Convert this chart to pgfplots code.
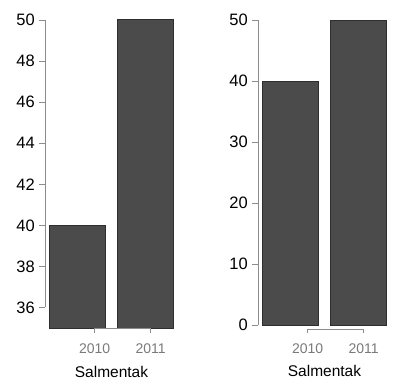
\documentclass[border=0pt]{standalone}
\usepackage{pgfplots}
\pgfplotsset{compat=1.18}
\usepackage{fontspec}
\setmainfont{Liberation Sans}
\definecolor{barfill}{HTML}{4B4B4B}
\definecolor{bardraw}{HTML}{2E2E2E}
\definecolor{axgray}{HTML}{8C8C8C}
\definecolor{lblgray}{HTML}{7A7A7A}
\begin{document}
\begin{tikzpicture}[x=1pt,y=1pt]
\useasboundingbox (0,0) rectangle (399,391);
\pgfplotsset{rstyle/.style={
  scale only axis, width=133pt,
  xmin=0.112, xmax=2.488,
  axis line style={draw=none},
  xtick={1,2}, xticklabels={2010,2011},
  xtick style={draw=none},
  ytick pos=left, xtick pos=bottom,
  ytick style={draw=axgray, line width=0.7pt},
  tick align=outside, major tick length=6pt,
  yticklabel style={font=\fontsize{16.5}{16.5}\selectfont, text=black, inner sep=0pt, anchor=east, xshift=-4pt},
  xticklabel style={font=\fontsize{14}{14}\selectfont, text=lblgray, inner sep=0pt, anchor=base},
  ybar, bar width=1, bar shift=0pt,
  /pgf/number format/assume math mode=true,
  xlabel={Salmentak},
  xlabel style={font=\fontsize{15.5}{15.5}\selectfont, inner sep=0pt, at={(axis description cs:0.5,0)}, anchor=base},
}}
% Left panel
\begin{axis}[rstyle, at={(45pt,63pt)}, anchor=south west, height=308pt,
  ymin=35, ymax=50, ytick={36,38,...,50},
  xticklabel style={yshift=-19pt},
  xlabel style={yshift=-49pt},
  after end axis/.code={
    \draw[axgray, line width=0.7pt] (axis cs:0.112,36) -- (axis cs:0.112,50);
    \draw[axgray, line width=0.7pt] (axis cs:1,35) -- (axis cs:2,35);
    \draw[axgray, line width=0.7pt] (axis cs:1,35) -- ++(0pt,-5pt);
    \draw[axgray, line width=0.7pt] (axis cs:2,35) -- ++(0pt,-5pt);
  }]
\addplot[fill=barfill, draw=bardraw, line width=1pt] coordinates {(0.7,40) (1.9,50)};
\end{axis}
% Right panel
\begin{axis}[rstyle, at={(258pt,66pt)}, anchor=south west, height=305pt,
  ymin=0, ymax=50, ytick={0,10,...,50},
  xticklabel style={yshift=-22pt},
  xlabel style={yshift=-51pt},
  after end axis/.code={
    \draw[axgray, line width=0.7pt] (axis cs:0.112,0) -- (axis cs:0.112,50);
    \draw[axgray, line width=0.7pt] ([yshift=-4pt]axis cs:1,0) -- ([yshift=-4pt]axis cs:2,0);
    \draw[axgray, line width=0.7pt] ([yshift=-4pt]axis cs:1,0) -- ++(0pt,-4pt);
    \draw[axgray, line width=0.7pt] ([yshift=-4pt]axis cs:2,0) -- ++(0pt,-4pt);
  }]
\addplot[fill=barfill, draw=bardraw, line width=1pt] coordinates {(0.7,40) (1.9,50)};
\end{axis}
\end{tikzpicture}
\end{document}
